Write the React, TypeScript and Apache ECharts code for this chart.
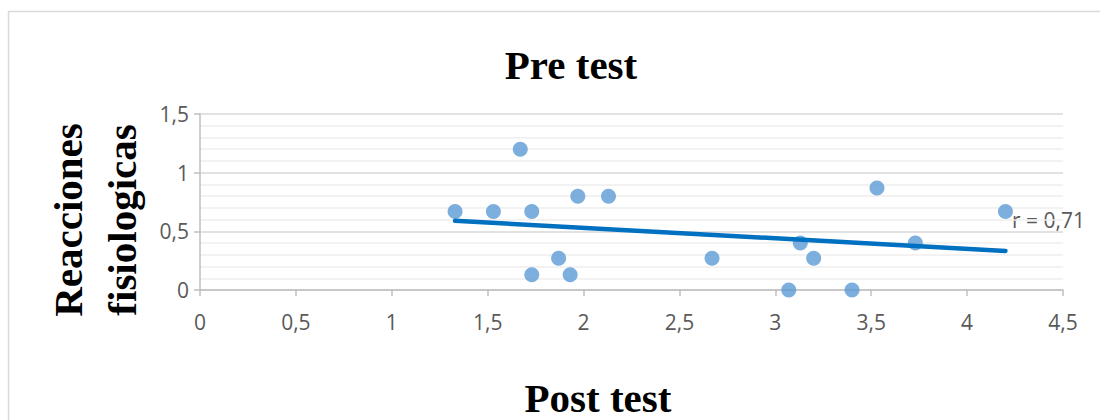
import React, { useEffect, useRef } from "react";
import * as echarts from "echarts";

const postTest: number[] = [1.33, 1.53, 1.67, 1.73, 1.73, 1.87, 1.93, 1.97, 2.13, 2.67, 3.07, 3.13, 3.2, 3.4, 3.53, 3.73, 4.2];
const reacciones: number[] = [0.67, 0.67, 1.2, 0.67, 0.13, 0.27, 0.13, 0.8, 0.8, 0.27, 0, 0.4, 0.27, 0, 0.87, 0.4, 0.67];
const trendX: number[] = [1.33, 4.2];
const trendY: number[] = [0.59, 0.333];
const titleText = "Pre test";
const xTitle = "Post test";
const yTitle = "Reacciones\nfisiologicas";
const rLabel = "r = 0,71";

const fmt = (v: number) => String(v).replace(".", ",");

export default function App() {
  const ref = useRef<HTMLDivElement>(null);
  useEffect(() => {
    if (!ref.current) return;
    const chart = echarts.init(ref.current, null, { renderer: "svg" });
    const labelFont = "'Open Sans', sans-serif";
    chart.setOption({
      animation: false,
      backgroundColor: "#ffffff",
      grid: { left: 200, right: 37, top: 114, bottom: 130, containLabel: false },
      xAxis: {
        type: "value",
        min: 0,
        max: 4.5,
        interval: 0.5,
        axisLine: { show: true, onZero: false, lineStyle: { color: "#bfbfbf", width: 1.5 } },
        axisTick: { show: true, length: 6, lineStyle: { color: "#bfbfbf", width: 1.5 } },
        splitLine: { show: false },
        axisLabel: { formatter: fmt, color: "#595959", fontSize: 21, fontFamily: labelFont, margin: 21 },
      },
      yAxis: {
        type: "value",
        min: 0,
        max: 1.5,
        interval: 0.5,
        axisLine: { show: true, lineStyle: { color: "#bfbfbf", width: 1.5 } },
        axisTick: { show: true, length: 6, lineStyle: { color: "#bfbfbf", width: 1.5 } },
        splitLine: { show: true, lineStyle: { color: "#d9d9d9", width: 1.5 } },
        minorTick: { show: false, splitNumber: 5 },
        minorSplitLine: { show: true, lineStyle: { color: "#eeeeee", width: 1.5 } },
        axisLabel: { formatter: fmt, color: "#595959", fontSize: 21, fontFamily: labelFont, margin: 11 },
      },
      series: [
        {
          type: "scatter",
          data: postTest.map((x, i) => [x, reacciones[i]]),
          symbol: "circle",
          symbolSize: 15,
          itemStyle: { color: "#5b9bd5" },
          z: 2,
        },
        {
          type: "line",
          data: trendX.map((x, i) => [x, trendY[i]]),
          symbol: "none",
          lineStyle: { color: "#0070c0", width: 4.5, cap: "round" },
          z: 3,
        },
      ],
      graphic: [
        {
          type: "rect",
          shape: { x: 8.5, y: 11.5, width: 1200, height: 500 },
          style: { fill: "none", stroke: "#d9d9d9", lineWidth: 1.5 },
          silent: true,
        },
        {
          type: "text",
          x: 571,
          y: 65,
          style: {
            text: titleText,
            font: "bold 41px 'Liberation Serif', 'Times New Roman', serif",
            fill: "#000000",
            textAlign: "center",
            textVerticalAlign: "middle",
          },
        },
        {
          type: "text",
          x: 598,
          y: 398,
          style: {
            text: xTitle,
            font: "bold 41px 'Liberation Serif', 'Times New Roman', serif",
            fill: "#000000",
            textAlign: "center",
            textVerticalAlign: "middle",
          },
        },
        {
          type: "text",
          x: 95,
          y: 220,
          rotation: Math.PI / 2,
          style: {
            text: yTitle,
            font: "bold 41px 'Liberation Serif', 'Times New Roman', serif",
            lineHeight: 54,
            fill: "#000000",
            textAlign: "center",
            textVerticalAlign: "middle",
          },
        },
        {
          type: "text",
          x: 1012,
          y: 220,
          style: {
            text: rLabel,
            font: "21px 'Open Sans', sans-serif",
            fill: "#595959",
            textAlign: "left",
            textVerticalAlign: "middle",
          },
        },
      ],
    });
    return () => chart.dispose();
  }, []);
  return <div ref={ref} style={{ position: "absolute", left: 0, top: 0, width: 1100, height: 420 }} />;
}
